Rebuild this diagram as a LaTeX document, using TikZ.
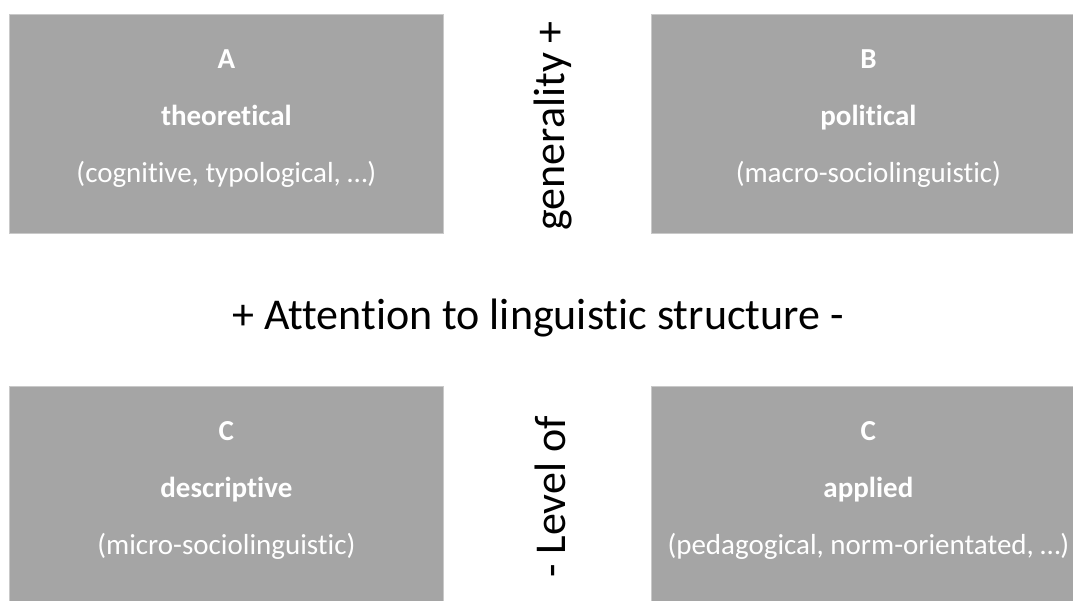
\documentclass[tikz,border=0pt]{standalone}
\usepackage{fontspec}
\setmainfont{Carlito}[Ligatures=NoCommon]

\definecolor{boxgray}{HTML}{A5A5A5}
\definecolor{edgegray}{HTML}{C9C9C9}

\tikzset{
  field/.style={rectangle, fill=boxgray, draw=edgegray, line width=0.8pt,
    minimum width=434pt, minimum height=219pt, inner sep=0pt},
  fieldtext/.style={text=white, align=center, font=\fontsize{29}{57}\selectfont},
  axis/.style={font=\fontsize{44}{48}\selectfont, inner sep=0pt}
}

\begin{document}
\begin{tikzpicture}[x=1pt, y=-1pt]
  \useasboundingbox (0,0) rectangle (1073,601);

  % the four fields
  \node [field, anchor=north west] (A) at (9,14) {};
  \node [field, anchor=north west] (B) at (651,14) {};
  \node [field, anchor=north west] (C) at (9,386) {};
  \node [field, anchor=north west] (D) at (651,386) {};

  \node [fieldtext, yshift=5pt] (textA) at (A.center)
    {\textbf{A}\\ \textbf{theoretical}\\ (cognitive, typological, …)};
  \node [fieldtext, yshift=5pt] (textB) at (B.center)
    {\textbf{B}\\ \textbf{political}\\ (macro-sociolinguistic)};
  \node [fieldtext, yshift=5pt] (textC) at (C.center)
    {\textbf{C}\\ \textbf{descriptive}\\ (micro-sociolinguistic)};
  \node [fieldtext, yshift=5pt] (textD) at (D.center)
    {\textbf{C}\\ \textbf{applied}\\ (pedagogical, norm-orientated, …)};

  % the two axes
  \node [axis] (attention) at (538,318) {+ Attention to linguistic structure -};
  \node [axis, rotate=90] (generality) at (553,126) {generality +};
  \node [axis, rotate=90] (level) at (550,497) {- Level of};
\end{tikzpicture}
\end{document}
